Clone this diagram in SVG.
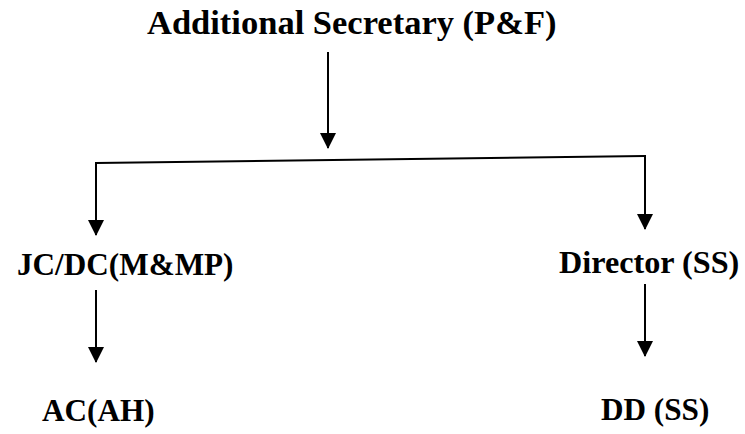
<svg xmlns="http://www.w3.org/2000/svg" width="745" height="434" viewBox="0 0 745 434">
<style>
text{font-family:'Liberation Serif','Times New Roman',Tinos,'DejaVu Serif',serif;font-weight:bold;fill:#000}
.t{font-size:34.5px}
.n{font-size:31.2px}
.c{stroke:#000;stroke-width:2;fill:none}
</style>
<defs>
<marker id="ah" viewBox="0 0 16 16" refX="15" refY="8" markerWidth="16" markerHeight="16" markerUnits="userSpaceOnUse" orient="auto">
<path d="M0,0 L16,8 L0,16 Z" fill="#000"/>
</marker>
</defs>
<rect width="745" height="434" fill="#fff"/>
<g id="connectors">
<line class="c" x1="328" y1="52" x2="328" y2="148" marker-end="url(#ah)"/>
<line class="c" x1="96" y1="163" x2="645" y2="156"/>
<line class="c" x1="96" y1="162" x2="96" y2="235" marker-end="url(#ah)"/>
<line class="c" x1="645" y1="155" x2="645" y2="229" marker-end="url(#ah)"/>
<line class="c" x1="96" y1="290" x2="96" y2="362" marker-end="url(#ah)"/>
<line class="c" x1="645" y1="284" x2="645" y2="356" marker-end="url(#ah)"/>
</g>
<g id="as"><text class="t" x="147" y="34">Additional Secretary (P&amp;F)</text></g>
<g id="jc"><text class="n" x="17" y="275">JC/DC(M&amp;MP)</text></g>
<g id="dir"><text class="n" x="559" y="273" style="font-size:32.2px">Director (SS)</text></g>
<g id="ac"><text class="n" x="42" y="421">AC(AH)</text></g>
<g id="dd"><text class="n" x="601" y="420">DD (SS)</text></g>
</svg>
